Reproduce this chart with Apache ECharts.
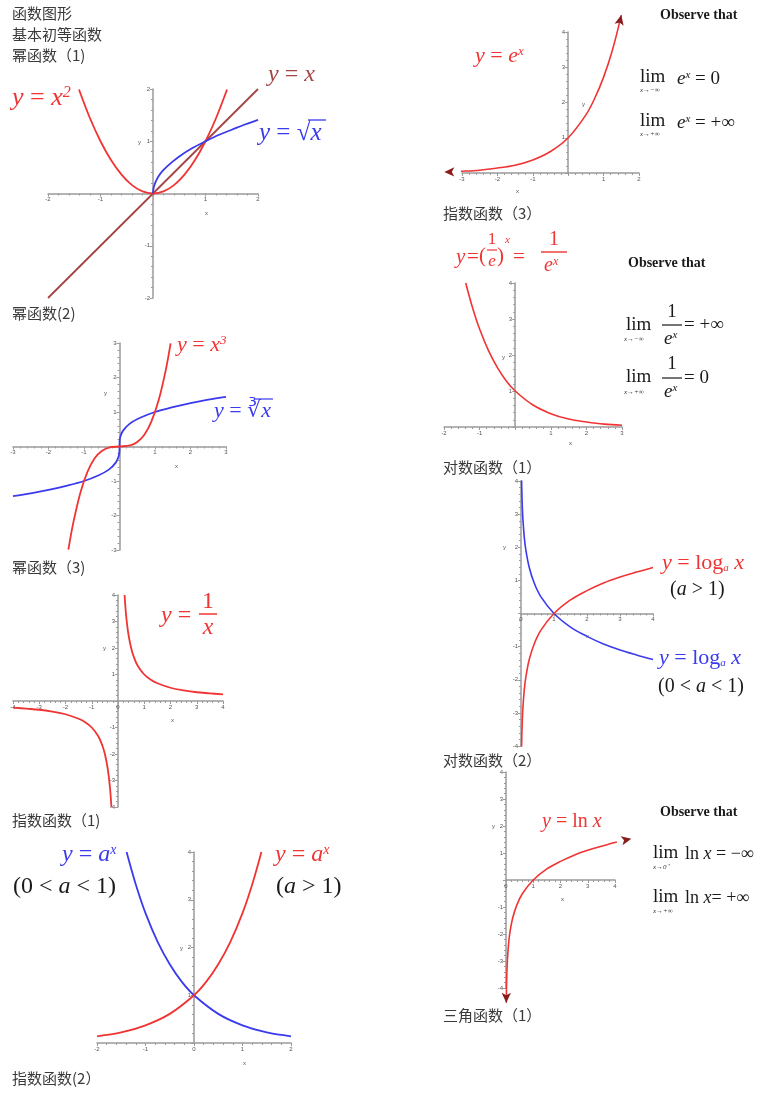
<!DOCTYPE html>
<html>
<head>
<meta charset="utf-8">
<script src="https://cdn.jsdelivr.net/npm/echarts@6/dist/echarts.min.js"></script>
<style>
html, body { margin: 0; padding: 0; background: #fff; }
#chartWrapper { width: 779px; height: 1099px; }
</style>
</head>
<body>
<div id="chartWrapper"></div>
<script>
// 幂函数(1)
let parX = [-1.41, -1.2, -1, -0.8, -0.6, -0.4, -0.2, 0, 0.2, 0.4, 0.6, 0.8, 1, 1.2, 1.41];
let parY = [1.99, 1.44, 1, 0.64, 0.36, 0.16, 0.04, 0, 0.04, 0.16, 0.36, 0.64, 1, 1.44, 1.99];
let idX = [-2, 2];
let idY = [-2, 2];
let sqrtX = [0, 0.01, 0.04, 0.1, 0.2, 0.35, 0.5, 0.75, 1, 1.25, 1.5, 1.75, 2];
let sqrtY = [0, 0.1, 0.2, 0.32, 0.45, 0.59, 0.71, 0.87, 1, 1.12, 1.22, 1.32, 1.41];

// 幂函数(2)
let cubeX = [-1.44, -1.3, -1.1, -0.9, -0.7, -0.5, -0.3, 0, 0.3, 0.5, 0.7, 0.9, 1.1, 1.3, 1.44];
let cubeY = [-2.99, -2.2, -1.33, -0.73, -0.34, -0.13, -0.03, 0, 0.03, 0.13, 0.34, 0.73, 1.33, 2.2, 2.99];
let cbrtX = [-3, -2.5, -2, -1.5, -1, -0.6, -0.3, -0.1, -0.02, -0.003, 0, 0.003, 0.02, 0.1, 0.3, 0.6, 1, 1.5, 2, 2.5, 3];
let cbrtY = [-1.44, -1.36, -1.26, -1.14, -1, -0.84, -0.67, -0.46, -0.27, -0.14, 0, 0.14, 0.27, 0.46, 0.67, 0.84, 1, 1.14, 1.26, 1.36, 1.44];

// 幂函数(3)
let invPX = [0.25, 0.3, 0.35, 0.4, 0.5, 0.6, 0.75, 1, 1.25, 1.5, 2, 2.5, 3, 3.5, 4];
let invPY = [4, 3.33, 2.86, 2.5, 2, 1.67, 1.33, 1, 0.8, 0.67, 0.5, 0.4, 0.33, 0.29, 0.25];
let invNX = [-4, -3.5, -3, -2.5, -2, -1.5, -1.25, -1, -0.75, -0.6, -0.5, -0.4, -0.35, -0.3, -0.25];
let invNY = [-0.25, -0.29, -0.33, -0.4, -0.5, -0.67, -0.8, -1, -1.33, -1.67, -2, -2.5, -2.86, -3.33, -4];

// 指数函数(1)
let expUpX = [-2, -1.5, -1, -0.5, 0, 0.25, 0.5, 0.75, 1, 1.2, 1.39];
let expUpY = [0.14, 0.22, 0.37, 0.61, 1, 1.28, 1.65, 2.12, 2.72, 3.32, 4];
let expDnX = [-1.39, -1.2, -1, -0.75, -0.5, -0.25, 0, 0.5, 1, 1.5, 2];
let expDnY = [4, 3.32, 2.72, 2.12, 1.65, 1.28, 1, 0.61, 0.37, 0.22, 0.14];

// 指数函数(3)  y = e^x
let eX = [-3.5, -3, -2.5, -2, -1.5, -1, -0.5, 0, 0.5, 0.75, 1, 1.25, 1.5];
let eY = [0.03, 0.05, 0.08, 0.14, 0.22, 0.37, 0.61, 1, 1.65, 2.12, 2.72, 3.49, 4.48];

// y = 1/e^x
let enX = [-1.39, -1.2, -1, -0.75, -0.5, -0.25, 0, 0.5, 1, 1.5, 2, 2.5, 3];
let enY = [4, 3.32, 2.72, 2.12, 1.65, 1.28, 1, 0.61, 0.37, 0.22, 0.14, 0.08, 0.05];

// 对数函数(1)
let logX = [0.018, 0.025, 0.04, 0.06, 0.1, 0.15, 0.25, 0.4, 0.6, 1, 1.5, 2, 2.5, 3, 3.5, 4];
let logUpY = [-4.02, -3.69, -3.22, -2.81, -2.3, -1.9, -1.39, -0.92, -0.51, 0, 0.41, 0.69, 0.92, 1.1, 1.25, 1.39];
let logDnY = [4.02, 3.69, 3.22, 2.81, 2.3, 1.9, 1.39, 0.92, 0.51, 0, -0.41, -0.69, -0.92, -1.1, -1.25, -1.39];

// 对数函数(2)  y = ln x
let lnX = [0.0106, 0.018, 0.03, 0.05, 0.1, 0.15, 0.25, 0.4, 0.6, 1, 1.5, 2, 2.5, 3, 3.5, 4, 4.6];
let lnY = [-4.55, -4.02, -3.51, -3, -2.3, -1.9, -1.39, -0.92, -0.51, 0, 0.41, 0.69, 0.92, 1.1, 1.25, 1.39, 1.53];

// axis ranges of the 8 small plots
let xRanges = [[-2, 2], [-3, 3], [-4, 4], [-2, 2], [-3, 2], [-2, 3], [0, 4], [0, 4]];
let yRanges = [[-2, 2], [-3, 3], [-4, 4], [0, 4], [0, 4], [0, 4], [-4, 4], [-4, 4]];
let showZero = [false, false, true, true, false, false, true, true];

// section titles
let titles = ['函数图形', '基本初等函数', '幂函数（1)', '幂函数(2)', '幂函数（3)', '指数函数（1)', '指数函数(2）',
    '指数函数（3）', '对数函数（1）', '对数函数（2）', '三角函数（1）'];

function initFuncChart() {
    let myChart = echarts.init(document.getElementById('chartWrapper'));

    const RED = '#f03434';
    const BLUE = '#3a3aee';
    const BROWN = '#a44444';
    const BLACK = '#1a1a1a';
    const AXIS = '#9a9a9a';
    const SERIF = '"Liberation Serif", "Times New Roman", serif';

    // grid boxes [left, top, width, height]
    let boxes = [
        [48, 89, 210, 209],
        [13, 343, 213, 207],
        [13, 595, 210, 212],
        [97, 852, 194, 191],
        [462, 32, 177, 141],
        [444, 283, 178, 144],
        [521, 481, 132, 265],
        [506, 772, 109, 216]
    ];

    let grids = [], xAxes = [], yAxes = [];
    boxes.forEach(function (b, i) {
        grids.push({left: b[0], top: b[1], width: b[2], height: b[3], containLabel: false});
        let common = {
            type: 'value',
            gridIndex: i,
            interval: 1,
            splitLine: {show: false},
            axisLine: {onZero: false, lineStyle: {color: AXIS, width: 1.5}},
            axisTick: {show: true, length: 3, lineStyle: {color: AXIS}},
            minorTick: {show: true, splitNumber: 5, length: 2, lineStyle: {color: AXIS}},
            minorSplitLine: {show: false}
        };
        let xr = xRanges[i], yr = yRanges[i];
        // move the axes onto the zero lines
        let xOff = -b[3] * (0 - yr[0]) / (yr[1] - yr[0]);
        let yOff = -b[2] * (0 - xr[0]) / (xr[1] - xr[0]);
        xAxes.push(Object.assign({}, common, {
            min: xr[0], max: xr[1],
            position: 'bottom', offset: xOff,
            axisLabel: {
                fontSize: 6, color: '#555', margin: 3,
                formatter: function (v) { return (v === 0 && !showZero[i]) ? '' : String(v); }
            }
        }));
        yAxes.push(Object.assign({}, common, {
            min: yr[0], max: yr[1],
            position: 'left', offset: yOff,
            axisLabel: {
                fontSize: 6, color: '#555', margin: 3,
                formatter: function (v) { return v === 0 ? '' : String(v); }
            }
        }));
    });

    function pts(xs, ys) {
        return xs.map(function (x, k) { return [x, ys[k]]; });
    }

    function arrowAt(p, rot) {
        return {value: p, symbol: 'arrow', symbolSize: [7, 10], symbolRotate: rot, itemStyle: {color: '#8a1c1c'}};
    }

    function curve(idx, data, color, width, clip) {
        return {
            type: 'line',
            xAxisIndex: idx,
            yAxisIndex: idx,
            data: data,
            smooth: 0.35,
            symbol: 'none',
            showSymbol: true,
            clip: clip !== false,
            silent: true,
            animation: false,
            lineStyle: {color: color, width: width || 1.8}
        };
    }

    let ePts = pts(eX, eY);
    ePts[0] = arrowAt(ePts[0], 90);
    ePts[ePts.length - 1] = arrowAt(ePts[ePts.length - 1], -13);
    let lnPts = pts(lnX, lnY);
    lnPts[0] = arrowAt(lnPts[0], 180);
    lnPts[lnPts.length - 1] = arrowAt(lnPts[lnPts.length - 1], -78);

    let seriesData = [
        curve(0, pts(idX, idY), BROWN, 1.8),
        curve(0, pts(parX, parY), RED),
        curve(0, pts(sqrtX, sqrtY), BLUE),
        curve(1, pts(cbrtX, cbrtY), BLUE),
        curve(1, pts(cubeX, cubeY), RED),
        curve(2, pts(invPX, invPY), RED),
        curve(2, pts(invNX, invNY), RED),
        curve(3, pts(expDnX, expDnY), BLUE),
        curve(3, pts(expUpX, expUpY), RED),
        curve(4, ePts, RED, 1.6, false),
        curve(5, pts(enX, enY), RED, 1.6),
        curve(6, pts(logX, logDnY), BLUE, 1.6),
        curve(6, pts(logX, logUpY), RED, 1.6),
        curve(7, lnPts, RED, 1.6, false)
    ];

    // ---- text helpers
    function t(x, y, text, size, color, extra) {
        return {
            type: 'text', x: x, y: y, silent: true,
            style: Object.assign({
                text: text, fontSize: size, fontFamily: SERIF, fill: color,
                align: 'left', verticalAlign: 'middle'
            }, extra || {})
        };
    }

    function rich(size, color) {
        return {
            v: {fontStyle: 'italic', fontSize: size, fontFamily: SERIF, fill: color, color: color},
            n: {fontSize: size, fontFamily: SERIF, fill: color, color: color},
            s: {fontStyle: 'italic', fontSize: Math.round(size * 0.6), fontFamily: SERIF, fill: color, color: color, verticalAlign: 'top'},
            b: {fontStyle: 'italic', fontSize: Math.round(size * 0.5), fontFamily: SERIF, fill: color, color: color, verticalAlign: 'bottom'}
        };
    }

    function m(x, y, text, size, color, extra) {
        return t(x, y, text, size, color, Object.assign({rich: rich(size, color)}, extra || {}));
    }

    function bar(x1, x2, y, color, w) {
        return {type: 'line', silent: true, shape: {x1: x1, y1: y, x2: x2, y2: y}, style: {stroke: color, lineWidth: w || 1.3}};
    }

    let g = [];

    // section titles
    let titlePos = [[12, 13], [12, 34], [12, 55], [12, 313], [12, 567], [12, 820], [12, 1078],
        [443, 213], [443, 467], [443, 760], [443, 1015]];
    titles.forEach(function (s, i) {
        g.push(t(titlePos[i][0], titlePos[i][1], s, 15, '#3a3a3a', {fontFamily: '"Noto Sans CJK SC", sans-serif'}));
    });

    // axis names
    let axisNames = [
        [205, 213, 'x'], [138, 142, 'y'],
        [175, 466, 'x'], [104, 393, 'y'],
        [171, 720, 'x'], [103, 648, 'y'],
        [243, 1063, 'x'], [180, 948, 'y'],
        [516, 191, 'x'], [582, 104, 'y'],
        [569, 443, 'x'], [502, 357, 'y'],
        [586, 636, 'x'], [503, 547, 'y'],
        [561, 899, 'x'], [492, 826, 'y']
    ];
    axisNames.forEach(function (a) {
        g.push(t(a[0], a[1], a[2], 6, '#555', {fontFamily: 'sans-serif'}));
    });

    // 幂函数(1)
    g.push(m(12, 98, '{v|y} {n|=} {v|x}{s|2}', 26, RED));
    g.push(m(268, 75, '{v|y} {n|=} {v|x}', 24, BROWN));
    g.push(m(259, 133, '{v|y} {n|= √}{v|x}', 25, BLUE));
    g.push(bar(308, 326, 120, BLUE, 1.3));

    // 幂函数(2)
    g.push(m(177, 345, '{v|y} {n|=} {v|x}{s|3}', 22, RED));
    g.push(m(214, 411, '{v|y} {n|= ∛}{v|x}', 22, BLUE));
    g.push(bar(256, 273, 399, BLUE, 1.2));

    // 幂函数(3)
    g.push(m(161, 616, '{v|y} {n|=}', 24, RED));
    g.push(t(208, 602, '1', 24, RED, {align: 'center'}));
    g.push(bar(199, 217, 614, RED, 1.5));
    g.push(t(208, 628, 'x', 24, RED, {align: 'center', fontStyle: 'italic'}));

    // 指数函数(1)
    g.push(m(62, 855, '{v|y} {n|=} {v|a}{s|x}', 24, BLUE));
    g.push(m(13, 887, '{n|(0 <} {v|a} {n|< 1)}', 24, BLACK));
    g.push(m(275, 855, '{v|y} {n|=} {v|a}{s|x}', 24, RED));
    g.push(m(276, 887, '{n|(}{v|a} {n|> 1)}', 24, BLACK));

    // 指数函数(3)
    g.push(m(475, 56, '{v|y} {n|=} {v|e}{s|x}', 22, RED));
    g.push(t(660, 15, 'Observe that', 14, BLACK, {fontWeight: 'bold'}));
    g.push(t(640, 77, 'lim', 19, BLACK));
    g.push(t(640, 90, 'x→−∞', 7, '#333', {fontStyle: 'italic'}));
    g.push(m(677, 79, '{v|e}{s|x}{n| = 0}', 19, BLACK));
    g.push(t(640, 121, 'lim', 19, BLACK));
    g.push(t(640, 134, 'x→+∞', 7, '#333', {fontStyle: 'italic'}));
    g.push(m(677, 123, '{v|e}{s|x}{n| = +∞}', 19, BLACK));

    // y = (1/e)^x = 1/e^x
    g.push(t(456, 257, 'y', 21, RED, {fontStyle: 'italic'}));
    g.push(t(467, 257, '=', 21, RED));
    g.push(t(479, 256, '(', 21, RED));
    g.push(t(492, 240, '1', 17, RED, {align: 'center'}));
    g.push(bar(487, 497, 250, RED, 1.2));
    g.push(t(492, 262, 'e', 17, RED, {align: 'center', fontStyle: 'italic'}));
    g.push(t(497, 256, ')', 21, RED));
    g.push(t(505, 240, 'x', 11, RED, {fontStyle: 'italic'}));
    g.push(t(513, 257, '=', 21, RED));
    g.push(t(554, 240, '1', 20, RED, {align: 'center'}));
    g.push(bar(541, 567, 252, RED, 1.4));
    g.push(m(544, 266, '{v|e}{s|x}', 20, RED));
    g.push(t(628, 263, 'Observe that', 14, BLACK, {fontWeight: 'bold'}));
    g.push(t(626, 325, 'lim', 19, BLACK));
    g.push(t(624, 339, 'x→−∞', 7, '#333', {fontStyle: 'italic'}));
    g.push(t(672, 312, '1', 19, BLACK, {align: 'center'}));
    g.push(bar(662, 682, 325, BLACK, 1.2));
    g.push(m(664, 339, '{v|e}{s|x}', 19, BLACK));
    g.push(t(684, 325, '= +∞', 19, BLACK));
    g.push(t(626, 377, 'lim', 19, BLACK));
    g.push(t(624, 392, 'x→+∞', 7, '#333', {fontStyle: 'italic'}));
    g.push(t(672, 364, '1', 19, BLACK, {align: 'center'}));
    g.push(bar(662, 682, 378, BLACK, 1.2));
    g.push(m(664, 392, '{v|e}{s|x}', 19, BLACK));
    g.push(t(684, 378, '= 0', 19, BLACK));

    // 对数函数(1)
    g.push(m(662, 563, '{v|y} {n|= log}{b|a} {v|x}', 22, RED));
    g.push(m(670, 590, '{n|(}{v|a} {n|> 1)}', 20, BLACK));
    g.push(m(659, 658, '{v|y} {n|= log}{b|a} {v|x}', 22, BLUE));
    g.push(m(658, 687, '{n|(0 <} {v|a} {n|< 1)}', 20, BLACK));

    // 对数函数(2)
    g.push(m(542, 822, '{v|y} {n|= ln} {v|x}', 20, RED));
    g.push(t(660, 812, 'Observe that', 14, BLACK, {fontWeight: 'bold'}));
    g.push(t(653, 853, 'lim', 19, BLACK));
    g.push(t(653, 867, 'x→0⁺', 7, '#333', {fontStyle: 'italic'}));
    g.push(m(685, 854, '{n|ln} {v|x} {n|= −∞}', 18, BLACK));
    g.push(t(653, 897, 'lim', 19, BLACK));
    g.push(t(653, 911, 'x→+∞', 7, '#333', {fontStyle: 'italic'}));
    g.push(m(685, 898, '{n|ln} {v|x}{n|= +∞}', 18, BLACK));

    let option = {
        backgroundColor: '#fff',
        animation: false,
        grid: grids,
        xAxis: xAxes,
        yAxis: yAxes,
        series: seriesData,
        graphic: {elements: g}
    };

    myChart.setOption(option);
}

initFuncChart();
</script>
</body>
</html>
